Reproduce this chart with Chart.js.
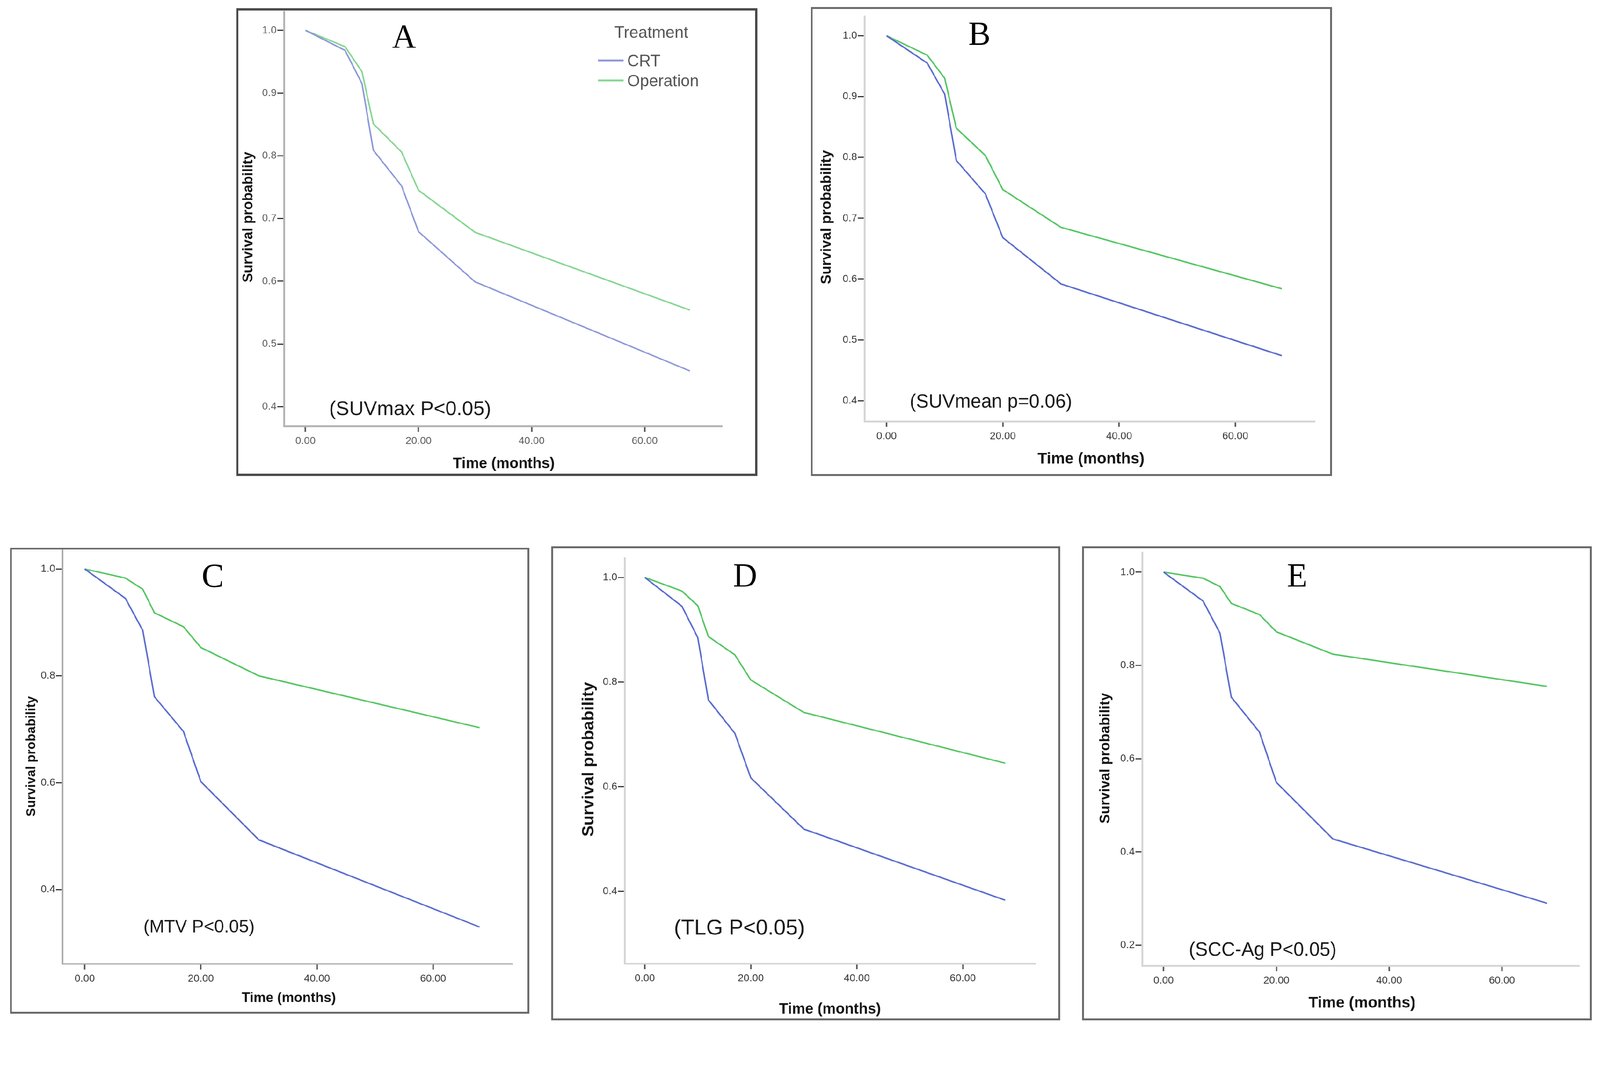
<!DOCTYPE html>
<html>
<head>
<meta charset="utf-8">
<title>Survival curves by treatment</title>
<script src="https://cdn.jsdelivr.net/npm/chart.js@4.4.1/dist/chart.umd.min.js"></script>
<style>
    html, body { margin: 0; padding: 0; background: #fff; overflow: hidden; }
    #page { width: 4316px; height: 2776px; position: relative; transform-origin: 0 0; }
    canvas { position: absolute; }
</style>
</head>
<body>
<div id="page">
    <canvas id="panelA"></canvas>
    <canvas id="panelB"></canvas>
    <canvas id="panelC"></canvas>
    <canvas id="panelD"></canvas>
    <canvas id="panelE"></canvas>
</div>
<script>
// Tiempos de los escalones (meses)
const timePoints = [0, 7, 10, 12, 17, 20, 30, 68];

// Supervivencia por panel: CRT / Operation
const crtA = [1.0, 0.968, 0.915, 0.809, 0.752, 0.679, 0.599, 0.457];
const opA  = [1.0, 0.974, 0.934, 0.851, 0.806, 0.745, 0.678, 0.554];
const crtB = [1.0, 0.955, 0.904, 0.795, 0.740, 0.668, 0.592, 0.474];
const opB  = [1.0, 0.968, 0.930, 0.848, 0.803, 0.747, 0.685, 0.584];
const crtC = [1.0, 0.945, 0.885, 0.761, 0.696, 0.602, 0.493, 0.330];
const opC  = [1.0, 0.983, 0.962, 0.918, 0.892, 0.853, 0.800, 0.703];
const crtD = [1.0, 0.945, 0.885, 0.766, 0.702, 0.617, 0.519, 0.383];
const opD  = [1.0, 0.974, 0.946, 0.887, 0.852, 0.804, 0.742, 0.645];
const crtE = [1.0, 0.938, 0.869, 0.732, 0.657, 0.549, 0.428, 0.290];
const opE  = [1.0, 0.987, 0.969, 0.933, 0.909, 0.872, 0.824, 0.755];

// Etiquetas y ticks
const seriesNames = ['CRT', 'Operation'];
const legendTitle = 'Treatment';
const xTitle = 'Time (months)';
const yTitle = 'Survival probability';
const xTickValues = [0, 20, 40, 60];
const yTicksTenth = [0.4, 0.5, 0.6, 0.7, 0.8, 0.9, 1.0];
const yTicksFifth = [0.4, 0.6, 0.8, 1.0];
const yTicksFifthLow = [0.2, 0.4, 0.6, 0.8, 1.0];

const SANS = '"Liberation Sans", Arial, sans-serif';
const SERIF = '"Liberation Serif", "Times New Roman", serif';

const PAGE_W = 4316;
const PAGE_H = 2776;

// Layout de cada panel (coordenadas absolutas de la página)
const PANELS = [
    {
        id: 'panelA', letter: 'A', note: '(SUVmax P<0.05)', crt: crtA, op: opA, yTicks: yTicksTenth,
        box: [637, 22, 1406, 1262], area: [766, 31, 1948, 1150], yRange: [0.369, 1.030],
        colors: ['#8f98d9', '#86d692'], axis: ['#b4b4b4', 5], tickText: '#5a5a5a',
        frame: ['#4a4a4a', 6], legend: true,
        letterAt: [1090, 105], noteAt: [888, 1105], noteSize: 54,
        xTitleAt: [1359, 1252], xTitleSize: 40, yTitleAt: [671, 586], yTitleSize: 38
    },
    {
        id: 'panelB', letter: 'B', note: '(SUVmean p=0.06)', crt: crtB, op: opB, yTicks: yTicksTenth,
        box: [2187, 19, 1406, 1265], area: [2332, 44, 3547, 1137], yRange: [0.366, 1.032],
        colors: ['#5b6dcf', '#55c663'], axis: ['#d6d6d6', 5], tickText: '#333',
        frame: ['#6a6a6a', 5], legend: false,
        letterAt: [2642, 97], noteAt: [2454, 1086], noteSize: 51,
        xTitleAt: [2943, 1239], xTitleSize: 42, yTitleAt: [2230, 586], yTitleSize: 39
    },
    {
        id: 'panelC', letter: 'C', note: '(MTV P<0.05)', crt: crtC, op: opC, yTicks: yTicksFifth,
        box: [27, 1478, 1401, 1257], area: [169, 1482, 1383, 2601], yRange: [0.261, 1.037],
        colors: ['#5b6dcf', '#55c663'], axis: ['#aaaaaa', 4], tickText: '#333',
        frame: ['#6a6a6a', 5], legend: false,
        letterAt: [574, 1560], noteAt: [387, 2503], noteSize: 48,
        xTitleAt: [779, 2694], xTitleSize: 37, yTitleAt: [85, 2041], yTitleSize: 35
    },
    {
        id: 'panelD', letter: 'D', note: '(TLG P<0.05)', crt: crtD, op: opD, yTicks: yTicksFifth,
        box: [1487, 1474, 1373, 1279], area: [1685, 1506, 2793, 2600], yRange: [0.262, 1.037],
        colors: ['#5b6dcf', '#55c663'], axis: ['#d6d6d6', 5], tickText: '#333',
        frame: ['#6a6a6a', 5], legend: false,
        letterAt: [2010, 1559], noteAt: [1818, 2506], noteSize: 58,
        xTitleAt: [2239, 2724], xTitleSize: 40, yTitleAt: [1589, 2049], yTitleSize: 45
    },
    {
        id: 'panelE', letter: 'E', note: '(SCC-Ag P<0.05)', crt: crtE, op: opE, yTicks: yTicksFifthLow,
        box: [2919, 1474, 1375, 1279], area: [3081, 1491, 4260, 2606], yRange: [0.156, 1.042],
        colors: ['#5b6dcf', '#55c663'], axis: ['#d6d6d6', 5], tickText: '#333',
        frame: ['#6a6a6a', 5], legend: false,
        letterAt: [3499, 1559], noteAt: [3207, 2565], noteSize: 51,
        xTitleAt: [3674, 2707], xTitleSize: 42, yTitleAt: [2983, 2046], yTitleSize: 38
    }
];

const X_RANGE = [-3.8, 73.7];
const Y_SCALE_W = 100;
const X_SCALE_H = 100;

/**
 * Ajustar la página al tamaño real de la ventana
 */
function fitPage() {
    const s = Math.min(window.innerWidth / PAGE_W, window.innerHeight / PAGE_H);
    document.getElementById('page').style.transform = 'scale(' + s + ')';
}

/**
 * Plugin: marco, letra, nota, títulos de ejes y leyenda
 */
function makeDecor(p) {
    return {
        id: 'panelDecor',
        beforeDraw(chart) {
            const ctx = chart.ctx;
            ctx.save();
            ctx.fillStyle = '#fff';
            ctx.fillRect(0, 0, chart.width, chart.height);
            ctx.restore();
        },
        afterDraw(chart) {
            const ctx = chart.ctx;
            const ox = p.box[0], oy = p.box[1];
            ctx.save();

            // marco
            const lw = p.frame[1];
            ctx.strokeStyle = p.frame[0];
            ctx.lineWidth = lw;
            ctx.strokeRect(lw / 2, lw / 2, chart.width - lw, chart.height - lw);

            // letra del panel
            ctx.fillStyle = '#000';
            ctx.font = '90px ' + SERIF;
            ctx.textAlign = 'center';
            ctx.textBaseline = 'middle';
            ctx.fillText(p.letter, p.letterAt[0] - ox, p.letterAt[1] - oy);

            // nota con p-valor
            ctx.fillStyle = '#1a1a1a';
            ctx.font = p.noteSize + 'px ' + SANS;
            ctx.textAlign = 'left';
            ctx.fillText(p.note, p.noteAt[0] - ox, p.noteAt[1] - oy);

            // títulos de ejes
            ctx.fillStyle = '#151515';
            ctx.textAlign = 'center';
            ctx.font = 'bold ' + p.xTitleSize + 'px ' + SANS;
            ctx.fillText(xTitle, p.xTitleAt[0] - ox, p.xTitleAt[1] - oy);

            ctx.save();
            ctx.translate(p.yTitleAt[0] - ox, p.yTitleAt[1] - oy);
            ctx.rotate(-Math.PI / 2);
            ctx.font = 'bold ' + p.yTitleSize + 'px ' + SANS;
            ctx.fillText(yTitle, 0, 0);
            ctx.restore();

            // leyenda (solo panel A)
            if (p.legend) {
                ctx.fillStyle = '#555';
                ctx.font = '44px ' + SANS;
                ctx.textAlign = 'center';
                ctx.fillText(legendTitle, 1757 - ox, 90 - oy);
                const rows = [167, 221];
                chart.data.datasets.forEach((ds, i) => {
                    const y = rows[i] - oy;
                    ctx.strokeStyle = ds.borderColor;
                    ctx.lineWidth = 5;
                    ctx.beginPath();
                    ctx.moveTo(1613 - ox, y - 4);
                    ctx.lineTo(1682 - ox, y - 4);
                    ctx.stroke();
                    ctx.fillStyle = '#555';
                    ctx.textAlign = 'left';
                    ctx.fillText(ds.label, 1692 - ox, y);
                });
            }
            ctx.restore();
        }
    };
}

/**
 * Crear un panel de supervivencia
 */
function createSurvivalChart(p) {
    const canvas = document.getElementById(p.id);
    const [bx, by, bw, bh] = p.box;
    const [al, at, ar, ab] = p.area;
    canvas.width = bw;
    canvas.height = bh;
    canvas.style.left = bx + 'px';
    canvas.style.top = by + 'px';

    const toPoints = arr => timePoints.map((t, i) => ({ x: t, y: arr[i] }));

    return new Chart(canvas.getContext('2d'), {
        type: 'line',
        data: {
            datasets: [
                { label: seriesNames[0], data: toPoints(p.crt), borderColor: p.colors[0] },
                { label: seriesNames[1], data: toPoints(p.op), borderColor: p.colors[1] }
            ]
        },
        options: {
            responsive: false,
            devicePixelRatio: 1,
            animation: false,
            events: [],
            elements: {
                line: { borderWidth: 4, tension: 0, fill: false },
                point: { radius: 0 }
            },
            layout: {
                padding: {
                    left: al - bx - Y_SCALE_W,
                    top: at - by,
                    right: bx + bw - ar,
                    bottom: by + bh - ab - X_SCALE_H
                }
            },
            plugins: {
                legend: { display: false },
                tooltip: { enabled: false }
            },
            scales: {
                x: {
                    type: 'linear',
                    min: X_RANGE[0],
                    max: X_RANGE[1],
                    afterBuildTicks: scale => { scale.ticks = xTickValues.map(v => ({ value: v })); },
                    afterFit: scale => {
                        scale.height = X_SCALE_H;
                        scale.paddingLeft = 0;
                        scale.paddingRight = 0;
                    },
                    border: { display: true, color: p.axis[0], width: p.axis[1] },
                    grid: {
                        drawOnChartArea: false,
                        drawTicks: true,
                        tickLength: 15,
                        tickWidth: 4,
                        tickColor: '#555'
                    },
                    ticks: {
                        maxRotation: 0,
                        padding: 8,
                        color: p.tickText,
                        font: { size: 28, family: SANS },
                        callback: v => Number(v).toFixed(2)
                    }
                },
                y: {
                    type: 'linear',
                    min: p.yRange[0],
                    max: p.yRange[1],
                    afterBuildTicks: scale => { scale.ticks = p.yTicks.map(v => ({ value: v })); },
                    afterFit: scale => {
                        scale.width = Y_SCALE_W;
                        scale.paddingTop = 0;
                        scale.paddingBottom = 0;
                    },
                    border: { display: true, color: p.axis[0], width: p.axis[1] },
                    grid: {
                        drawOnChartArea: false,
                        drawTicks: true,
                        tickLength: 18,
                        tickWidth: 3,
                        tickColor: '#333'
                    },
                    ticks: {
                        padding: 2,
                        color: p.tickText,
                        font: { size: 28, family: SANS },
                        callback: v => Number(v).toFixed(1)
                    }
                }
            }
        },
        plugins: [makeDecor(p)]
    });
}

fitPage();
PANELS.forEach(createSurvivalChart);
</script>
</body>
</html>
